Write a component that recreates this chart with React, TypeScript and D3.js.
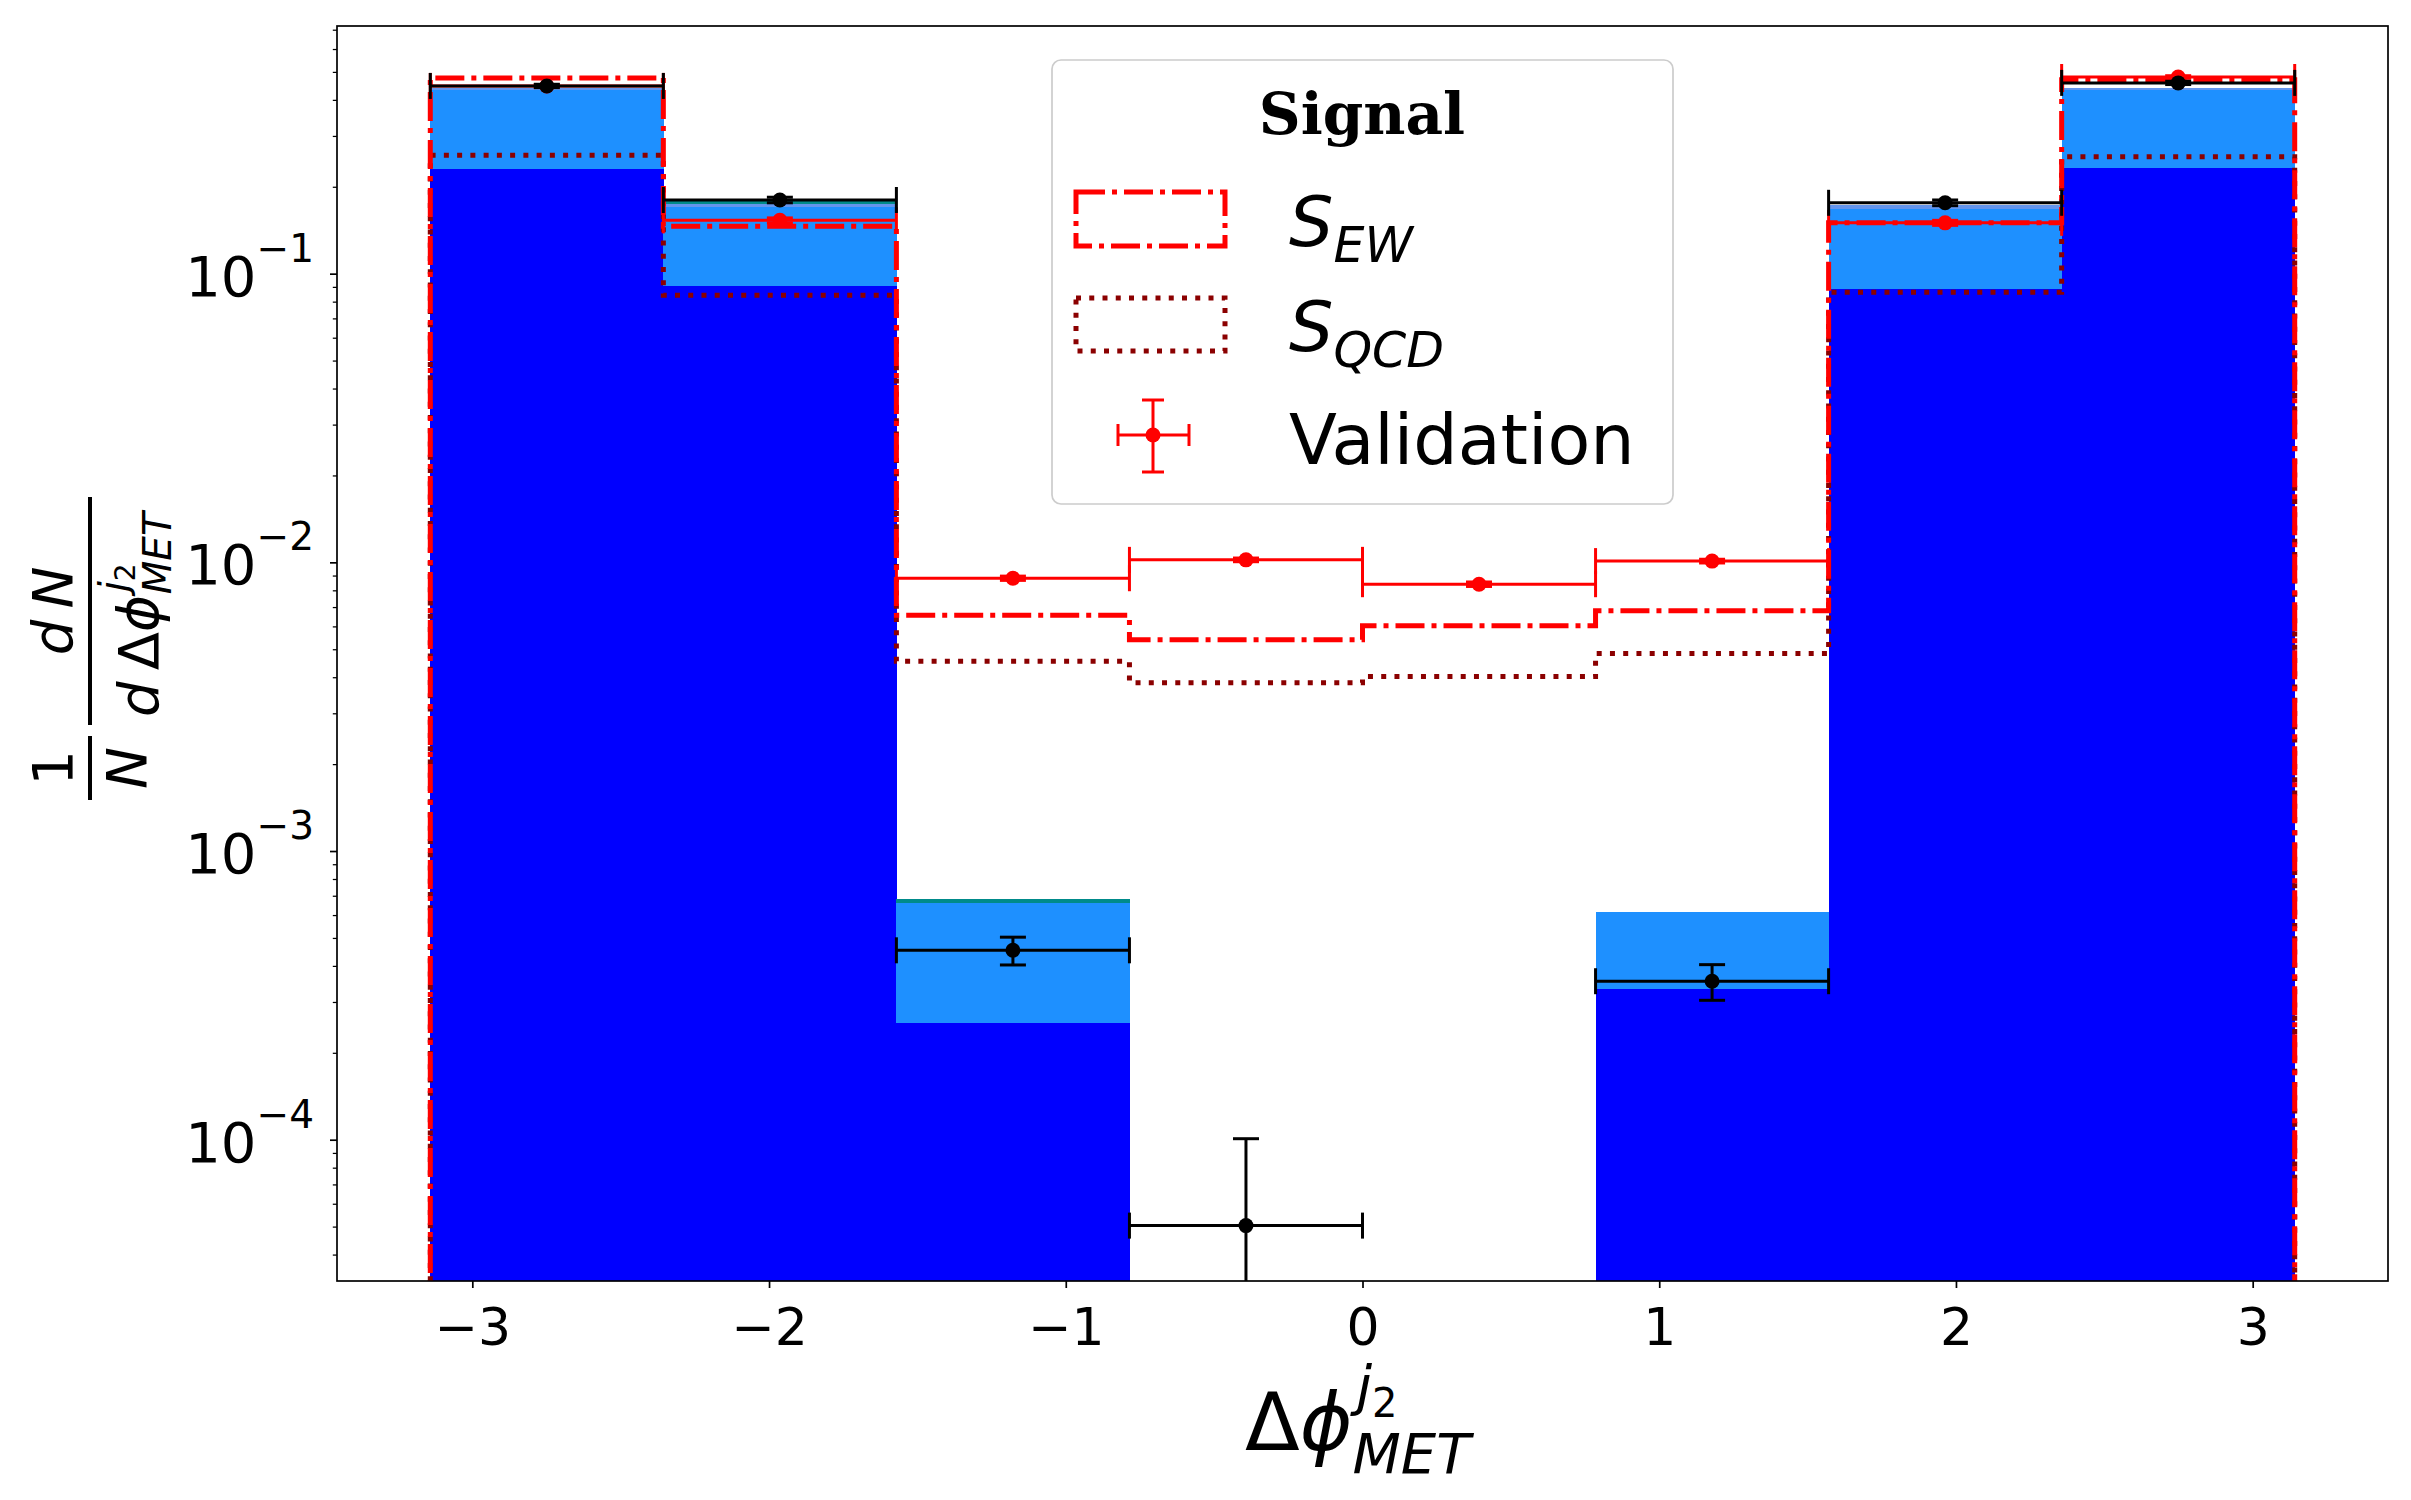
import * as d3 from 'd3';
import React, { useEffect, useRef } from 'react';

// Bin edges of the Delta-phi histogram (8 bins between -pi and pi)
const binEdges = [-3.1416, -2.3562, -1.5708, -0.7854, 0, 0.7854, 1.5708, 2.3562, 3.1416];
const xTicks = [-3, -2, -1, 0, 1, 2, 3];
const yTickExps = [-1, -2, -3, -4];

// Stacked background layers (contribution per bin)
const bkgBlue = [0.230, 0.0907, 2.54e-4, 0, 0, 3.33e-4, 0.0884, 0.233];
const bkgDodger = [0.202, 0.0793, 4.08e-4, 0, 0, 2.82e-4, 0.0796, 0.199];
const bkgCornflower = [0.009, 0.005, 0, 0, 0, 0, 0.005, 0.009];
const bkgTeal = [0, 0.004, 0.2e-4, 0, 0, 0, 0, 0];

// Black data points with errors (null = empty bin)
const dataVals: (number | null)[] = [0.447, 0.180, 4.53e-4, 5.04e-5, null, 3.54e-4, 0.176, 0.458];
const dataErr = [0.006, 0.004, 0.5e-4, 5.04e-5, 0, 0.5e-4, 0.004, 0.006];

// Red validation points
const validVals = [0.447, 0.153, 8.81e-3, 0.0102, 8.4e-3, 0.0101, 0.150, 0.48];
const validErr = [0.005, 0.003, 1.5e-4, 1.5e-4, 1.5e-4, 1.5e-4, 0.003, 0.005];

// Signal step histograms
const sEW = [0.476, 0.146, 6.56e-3, 5.39e-3, 6.03e-3, 6.8e-3, 0.150, 0.47];
const sQCD = [0.257, 0.0842, 4.54e-3, 3.83e-3, 4.02e-3, 4.83e-3, 0.0863, 0.254];

const FONT = '"DejaVu Sans", sans-serif';

const App: React.FC = () => {
  const svgRef = useRef<SVGSVGElement>(null);

  useEffect(() => {
    if (!svgRef.current) return;
    const svg = d3.select(svgRef.current);
    svg.selectAll('*').remove();

    const width = 2411;
    const height = 1500;
    const margin = { top: 26, right: 23, bottom: 219, left: 337 };
    const innerWidth = width - margin.left - margin.right;
    const innerHeight = height - margin.top - margin.bottom;

    svg.append('rect').attr('width', width).attr('height', height).attr('fill', 'white');

    const xScale = d3.scaleLinear().domain([-3.456, 3.456]).range([0, innerWidth]);
    const yScale = d3.scaleLog().domain([3.24e-5, 0.721]).range([innerHeight, 0]);
    const yPos = (v: number) => (v > 0 ? yScale(v) : innerHeight + 40);

    svg.append('defs').append('clipPath').attr('id', 'plot-clip')
      .append('rect').attr('width', innerWidth).attr('height', innerHeight);

    const container = svg.append('g')
      .attr('transform', `translate(${margin.left}, ${margin.top})`);
    const plot = container.append('g').attr('clip-path', 'url(#plot-clip)');

    // Stacked background bars
    const rows = binEdges.slice(0, -1).map((lo, i) => ({
      lo, hi: binEdges[i + 1],
      blue: bkgBlue[i], dodger: bkgDodger[i], cornflower: bkgCornflower[i], teal: bkgTeal[i]
    }));
    const layerColors: Record<string, string> = {
      blue: '#0000ff', dodger: '#1e90ff', cornflower: '#6495ed', teal: '#008b8b'
    };
    const stacked = d3.stack<any>().keys(['blue', 'dodger', 'cornflower', 'teal'])(rows);
    stacked.forEach(series => {
      plot.append('g').attr('shape-rendering', 'crispEdges').selectAll('rect')
        .data(series.filter(d => d[1] - d[0] > 0))
        .join('rect')
        .attr('x', d => xScale(d.data.lo))
        .attr('width', d => xScale(d.data.hi) - xScale(d.data.lo) + 0.5)
        .attr('y', d => yScale(d[1]))
        .attr('height', d => yPos(d[0]) - yScale(d[1]))
        .attr('fill', layerColors[series.key]);
    });

    // Step histograms
    const stepPoints = (vals: number[]) => {
      const pts: [number, number][] = [[binEdges[0], 0]];
      vals.forEach((v, i) => { pts.push([binEdges[i], v]); pts.push([binEdges[i + 1], v]); });
      pts.push([binEdges[binEdges.length - 1], 0]);
      return pts;
    };
    const step = d3.line<[number, number]>().x(d => xScale(d[0])).y(d => yPos(d[1]));

    plot.append('path').datum(stepPoints(sQCD)).attr('d', step)
      .attr('fill', 'none').attr('stroke', '#8b0000').attr('stroke-width', 5)
      .attr('stroke-dasharray', '5,8.25');
    plot.append('path').datum(stepPoints(sEW)).attr('d', step)
      .attr('fill', 'none').attr('stroke', '#ff0000').attr('stroke-width', 5)
      .attr('stroke-dasharray', '29,7,5,7');

    // Error bars
    const drawErrors = (vals: (number | null)[], errs: number[], color: string) => {
      const g = plot.append('g').attr('stroke', color).attr('stroke-width', 3);
      const cap = 13;
      vals.forEach((v, i) => {
        if (v == null) return;
        const x0 = xScale(binEdges[i]);
        const x1 = xScale(binEdges[i + 1]);
        const xc = (x0 + x1) / 2;
        const yc = yScale(v);
        const yTop = yPos(v + errs[i]);
        const yBot = yPos(v - errs[i]);
        g.append('line').attr('x1', x0).attr('x2', x1).attr('y1', yc).attr('y2', yc);
        g.append('line').attr('x1', x0).attr('x2', x0).attr('y1', yc - cap).attr('y2', yc + cap);
        g.append('line').attr('x1', x1).attr('x2', x1).attr('y1', yc - cap).attr('y2', yc + cap);
        g.append('line').attr('x1', xc).attr('x2', xc).attr('y1', yTop).attr('y2', yBot);
        g.append('line').attr('x1', xc - cap).attr('x2', xc + cap).attr('y1', yTop).attr('y2', yTop);
        g.append('line').attr('x1', xc - cap).attr('x2', xc + cap).attr('y1', yBot).attr('y2', yBot);
        g.append('circle').attr('cx', xc).attr('cy', yc).attr('r', 7.5)
          .attr('fill', color).attr('stroke', 'none');
      });
    };
    drawErrors(validVals, validErr, '#ff0000');
    drawErrors(dataVals, dataErr, '#000000');

    // X axis
    const fmtMinus = (d: number) => (d < 0 ? '\u2212' + Math.abs(d) : String(d));
    const xAxis = container.append('g')
      .attr('transform', `translate(0, ${innerHeight})`)
      .call(d3.axisBottom(xScale).tickValues(xTicks).tickSize(7).tickPadding(20)
        .tickFormat(d => fmtMinus(d as number)));
    xAxis.select('.domain').remove();
    xAxis.selectAll('line').attr('stroke', '#000').attr('stroke-width', 1.7);
    xAxis.selectAll('text').style('font-size', '52px').style('font-family', FONT).attr('fill', '#000');

    // Y axis (log, major + minor ticks)
    const minorTicks: number[] = [];
    [-5, -4, -3, -2, -1].forEach(e => {
      [2, 3, 4, 5, 6, 7, 8, 9].forEach(k => {
        const v = k * Math.pow(10, e);
        if (v > 3.24e-5 && v < 0.721) minorTicks.push(v);
      });
    });
    const yMinor = container.append('g')
      .call(d3.axisLeft(yScale).tickValues(minorTicks).tickSize(4.2).tickFormat(() => ''));
    yMinor.select('.domain').remove();
    yMinor.selectAll('line').attr('stroke', '#000').attr('stroke-width', 1.25);

    const yMajor = container.append('g')
      .call(d3.axisLeft(yScale).tickValues(yTickExps.map(e => Math.pow(10, e)))
        .tickSize(7).tickFormat(() => ''));
    yMajor.select('.domain').remove();
    yMajor.selectAll('line').attr('stroke', '#000').attr('stroke-width', 1.7);

    yTickExps.forEach(e => {
      const t = container.append('text')
        .attr('x', -23)
        .attr('y', yScale(Math.pow(10, e)) + 22)
        .attr('text-anchor', 'end')
        .style('font-family', FONT)
        .style('font-size', '56px')
        .attr('fill', '#000');
      t.append('tspan').text('10');
      t.append('tspan').attr('dy', -34).style('font-size', '39px').text('\u2212' + Math.abs(e));
    });

    // Frame
    container.append('rect')
      .attr('width', innerWidth).attr('height', innerHeight)
      .attr('fill', 'none').attr('stroke', '#000').attr('stroke-width', 1.7);

    // X label: Delta phi^{j_2}_{MET}
    const xl = svg.append('text')
      .attr('x', 1245).attr('y', 1450)
      .style('font-family', FONT).style('font-size', '80px').attr('fill', '#000');
    xl.append('tspan').text('\u0394');
    xl.append('tspan').style('font-style', 'italic').text('\u03d5');
    xl.append('tspan').attr('dx', 4).attr('dy', -45).style('font-size', '56px').style('font-style', 'italic').text('j');
    xl.append('tspan').attr('dy', 12).style('font-size', '40px').text('2');
    xl.append('tspan').attr('dx', -45).attr('dy', 56).style('font-size', '56px')
      .style('font-style', 'italic').text('MET');

    // Y label: 1/N dN / d(Delta phi)
    const yl = svg.append('g')
      .attr('transform', 'translate(90, 653) rotate(-90)')
      .style('font-family', FONT).attr('fill', '#000');
    yl.append('text').attr('x', -115).attr('y', -18).attr('text-anchor', 'middle')
      .style('font-size', '56px').text('1');
    yl.append('line').attr('x1', -147).attr('x2', -83).attr('y1', 0).attr('y2', 0)
      .attr('stroke', '#000').attr('stroke-width', 4);
    yl.append('text').attr('x', -115).attr('y', 56).attr('text-anchor', 'middle')
      .style('font-size', '56px').style('font-style', 'italic').text('N');
    yl.append('text').attr('x', 42).attr('y', -18).attr('text-anchor', 'middle')
      .style('font-size', '56px').style('font-style', 'italic').text('d\u2009N');
    yl.append('line').attr('x1', -72).attr('x2', 156).attr('y1', 0).attr('y2', 0)
      .attr('stroke', '#000').attr('stroke-width', 4);
    const den = yl.append('text').attr('x', -64).attr('y', 68).style('font-size', '56px');
    den.append('tspan').style('font-style', 'italic').text('d\u2009');
    den.append('tspan').text('\u0394');
    den.append('tspan').style('font-style', 'italic').text('\u03d5');
    den.append('tspan').attr('dx', 3).attr('dy', -31).style('font-size', '39px').style('font-style', 'italic').text('j');
    den.append('tspan').attr('dy', 8).style('font-size', '28px').text('2');
    den.append('tspan').attr('dx', -31).attr('dy', 36).style('font-size', '39px')
      .style('font-style', 'italic').text('MET');

    // Legend
    const lg = svg.append('g');
    lg.append('rect')
      .attr('x', 1052).attr('y', 60).attr('width', 621).attr('height', 444)
      .attr('rx', 9).attr('fill', 'white').attr('fill-opacity', 0.8)
      .attr('stroke', '#cccccc').attr('stroke-width', 1.7);
    lg.append('text').attr('x', 1362).attr('y', 134).attr('text-anchor', 'middle')
      .style('font-family', '"DejaVu Serif", serif').style('font-weight', 'bold')
      .style('font-size', '58px').attr('fill', '#000').text('Signal');
    lg.append('rect').attr('x', 1076).attr('y', 192).attr('width', 149).attr('height', 54)
      .attr('fill', 'none').attr('stroke', '#ff0000').attr('stroke-width', 5)
      .attr('stroke-dasharray', '29,7,5,7');
    lg.append('rect').attr('x', 1076).attr('y', 298).attr('width', 149).attr('height', 53)
      .attr('fill', 'none').attr('stroke', '#8b0000').attr('stroke-width', 5)
      .attr('stroke-dasharray', '5,8.25');
    const vg = lg.append('g').attr('stroke', '#ff0000').attr('stroke-width', 3);
    vg.append('line').attr('x1', 1118).attr('x2', 1189).attr('y1', 435).attr('y2', 435);
    vg.append('line').attr('x1', 1153).attr('x2', 1153).attr('y1', 400).attr('y2', 472);
    vg.append('line').attr('x1', 1142).attr('x2', 1164).attr('y1', 400).attr('y2', 400);
    vg.append('line').attr('x1', 1142).attr('x2', 1164).attr('y1', 472).attr('y2', 472);
    vg.append('line').attr('x1', 1118).attr('x2', 1118).attr('y1', 424).attr('y2', 446);
    vg.append('line').attr('x1', 1189).attr('x2', 1189).attr('y1', 424).attr('y2', 446);
    vg.append('circle').attr('cx', 1153).attr('cy', 435).attr('r', 7.5).attr('fill', '#ff0000').attr('stroke', 'none');

    const entryText = (yBase: number, main: string, sub: string | null, italic: boolean) => {
      const t = lg.append('text').attr('x', 1289).attr('y', yBase)
        .style('font-family', FONT).style('font-size', '70px').attr('fill', '#000');
      t.append('tspan').style('font-style', italic ? 'italic' : 'normal').text(main);
      if (sub) {
        t.append('tspan').attr('dy', 16).style('font-size', '49px').style('font-style', 'italic').text(sub);
      }
    };
    entryText(246, 'S', 'EW', true);
    entryText(351, 'S', 'QCD', true);
    entryText(464, 'Validation', null, false);
  }, []);

  return (
    <div style={{ position: 'absolute', left: 0, top: 0 }}>
      <svg ref={svgRef} width={2411} height={1500} style={{ display: 'block' }} />
    </div>
  );
};

export default App;
